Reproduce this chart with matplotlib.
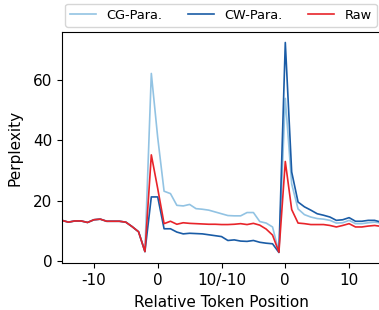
import numpy as np
import matplotlib
matplotlib.use("Agg")
import matplotlib.pyplot as plt

# positions: -15..-1, 0 (first token) ... 10/-10 ... 0 (second token) ... 15
pos = np.arange(-15, 36)
tick_pos = [-10, 0, 10, 20, 30]
tick_labels = ["-10", "0", "10/-10", "0", "10"]

pre = [13.4, 12.8, 13.2, 13.2, 12.7, 13.6, 13.8, 13.1, 13.1, 13.1, 12.8, 11.3, 9.6, 3.0]

cg_para = pre + [62.3, 41.0, 23.1, 22.3, 18.4, 18.2, 18.7, 17.3, 17.1, 16.8, 16.2, 15.6,
                 15.0, 14.9, 14.9, 16.0, 16.0, 13.0, 12.5, 11.2, 2.8, 54.0, 25.5, 17.2,
                 15.3, 14.5, 14.0, 13.8, 13.4, 12.5, 12.6, 13.4, 12.3, 12.3, 12.6, 12.8, 12.5]
cw_para = pre + [21.2, 21.2, 10.6, 10.6, 9.5, 8.9, 9.1, 9.0, 8.9, 8.6, 8.3, 8.0,
                 6.7, 6.9, 6.5, 6.4, 6.7, 6.1, 5.8, 5.6, 2.7, 72.6, 29.5, 19.5,
                 17.9, 16.8, 15.6, 15.1, 14.5, 13.4, 13.6, 14.3, 13.1, 13.1, 13.4, 13.4, 12.8]
raw = pre + [35.2, 24.0, 12.3, 13.1, 12.1, 12.6, 12.4, 12.3, 12.2, 12.1, 12.1, 12.0,
             12.0, 12.1, 12.3, 12.0, 12.4, 11.8, 10.5, 8.5, 2.8, 33.0, 17.0, 12.5,
             12.3, 12.0, 12.0, 12.0, 11.7, 11.2, 11.7, 12.3, 11.2, 11.2, 11.5, 11.7, 11.4]

fig = plt.figure(figsize=(3.79, 3.10), dpi=100)
ax = fig.add_axes([62 / 379, 1 - 263 / 310, 319 / 379, 231 / 310])

ax.plot(pos, cg_para, color="#92c3e3", lw=1.2, label="CG-Para.")
ax.plot(pos, cw_para, color="#1a5ca6", lw=1.2, label="CW-Para.")
ax.plot(pos, raw, color="#e8242a", lw=1.2, label="Raw")

ax.set_xlim(-15, 35)
ax.set_xticks(tick_pos)
ax.set_xticklabels(tick_labels)
ax.set_yticks([0, 20, 40, 60])
ax.tick_params(labelsize=11)
ax.set_xlabel("Relative Token Position", fontsize=11, labelpad=5.5)
ax.set_ylabel("Perplexity", fontsize=11, labelpad=7.5)

fig.legend(loc="lower left", bbox_to_anchor=(65 / 379, 1 - 27 / 310), ncol=3,
           fontsize=9.3, borderaxespad=0, frameon=True)

fig.savefig("out.png", dpi=100)
